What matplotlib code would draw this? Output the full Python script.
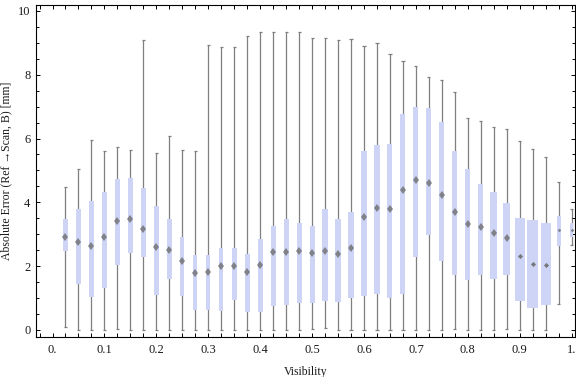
import matplotlib
matplotlib.use("Agg")
import matplotlib.pyplot as plt
from matplotlib.ticker import MultipleLocator, FixedLocator

# box positions (visibility)
VISIBILITY = [0.025, 0.05, 0.075, 0.1, 0.125, 0.15, 0.175, 0.2, 0.225, 0.25,
              0.275, 0.3, 0.325, 0.35, 0.375, 0.4, 0.425, 0.45, 0.475, 0.5,
              0.525, 0.55, 0.575, 0.6, 0.625, 0.65, 0.675, 0.7, 0.725, 0.75,
              0.775, 0.8, 0.825, 0.85, 0.875, 0.9, 0.925, 0.95, 0.975, 1.0]

WHISK_LO = [0.08, 0, 0, 0, 0.03, 0, 0, 0, 0, 0,
            0, 0, 0, 0, 0, 0, 0, 0, 0, 0.03,
            0.06, 0, 0, 0, 0, 0, 0, 0, 0, 0,
            0.04, 0, 0, 0, 0.04, 0, 0, 0, 0.80, 2.65]
Q1 = [2.47, 1.45, 1.04, 1.31, 2.03, 2.42, 2.30, 1.11, 1.61, 1.08,
      0.64, 0.64, 0.61, 0.95, 0.57, 0.57, 0.76, 0.79, 0.84, 0.83,
      0.92, 0.89, 1.01, 1.08, 1.14, 1.01, 1.14, 2.30, 2.97, 2.17,
      1.72, 1.57, 1.72, 1.60, 1.73, 0.92, 0.70, 0.78, 2.64, 2.92]
MEDIAN = [2.92, 2.75, 2.64, 2.92, 3.43, 3.49, 3.16, 2.59, 2.51, 2.17,
          1.80, 1.82, 2.02, 2.02, 1.81, 2.03, 2.43, 2.45, 2.46, 2.42,
          2.49, 2.39, 2.56, 3.53, 3.81, 3.78, 4.39, 4.70, 4.61, 4.23,
          3.69, 3.33, 3.22, 3.05, 2.89, 2.33, 2.07, 2.05, 3.13, 3.13]
Q3 = [3.47, 3.78, 4.03, 4.32, 4.72, 4.75, 4.44, 3.88, 3.48, 2.92,
      2.35, 2.35, 2.56, 2.56, 2.38, 2.84, 3.26, 3.47, 3.35, 3.27,
      3.78, 3.47, 3.70, 5.61, 5.80, 5.83, 6.77, 6.99, 6.96, 6.52,
      5.60, 5.05, 4.58, 4.33, 3.97, 3.51, 3.45, 3.35, 3.57, 3.34]
WHISK_HI = [4.49, 5.06, 5.94, 5.62, 5.73, 5.65, 9.08, 5.56, 6.07, 5.65,
            5.62, 8.93, 8.86, 8.86, 9.22, 9.33, 9.33, 9.33, 9.33, 9.14,
            9.16, 9.08, 9.11, 8.89, 8.99, 8.65, 8.42, 8.27, 7.92, 7.83,
            7.46, 6.64, 6.54, 6.35, 6.29, 5.91, 5.66, 5.41, 4.63, 3.78]
# box widths as drawn, in visibility units
BOX_WIDTH = [0.0096, 0.0096, 0.0096, 0.0102, 0.0096, 0.0096, 0.0083, 0.0090, 0.0090, 0.0077,
             0.0083, 0.0083, 0.0083, 0.0096, 0.0096, 0.0096, 0.0096, 0.0096, 0.0096, 0.0096,
             0.0116, 0.0110, 0.0110, 0.0110, 0.0110, 0.0096, 0.0096, 0.0096, 0.0096, 0.0096,
             0.0096, 0.0096, 0.0102, 0.0135, 0.0135, 0.0193, 0.0206, 0.0193, 0.0083, 0.0050]

X_TICKS = [0, 0.1, 0.2, 0.3, 0.4, 0.5, 0.6, 0.7, 0.8, 0.9, 1.0]
X_LABELS = ["0.", "0.1", "0.2", "0.3", "0.4", "0.5", "0.6", "0.7", "0.8", "0.9", "1."]

SERIF = ["Liberation Serif", "DejaVu Serif"]
BOX_COLOR = "#cdd4f6"
WHISKER_COLOR = "#7f7f7f"
MEDIAN_COLOR = "#6e6e6e"


def main():
    plt.rcParams["font.family"] = SERIF
    fig = plt.figure(figsize=(5.76, 3.77), dpi=100)
    ax = fig.add_axes([36 / 576, 40 / 377, 538.5 / 576, 332.5 / 377])

    # whiskers + caps
    ax.vlines(VISIBILITY, WHISK_LO, WHISK_HI, color=WHISKER_COLOR, linewidth=0.9, zorder=1)
    cap = 0.003
    for x, lo, hi in zip(VISIBILITY, WHISK_LO, WHISK_HI):
        ax.hlines([lo, hi], x - cap, x + cap, color=WHISKER_COLOR, linewidth=0.9, zorder=1)

    heights = [b - a for a, b in zip(Q1, Q3)]
    ax.bar(VISIBILITY, heights, bottom=Q1, width=BOX_WIDTH, color=BOX_COLOR,
           edgecolor="none", zorder=2)

    # median markers: tall diamonds, flatter on wide boxes, tiny on short boxes
    for x, m, w, h in zip(VISIBILITY, MEDIAN, BOX_WIDTH, heights):
        if h < 0.95:
            ax.plot(x, m, marker="D", ms=1.8, color=MEDIAN_COLOR, mew=0, alpha=0.8, zorder=3)
        elif w > 0.015:
            ax.plot(x, m, marker="D", ms=2.6, color=MEDIAN_COLOR, mew=0, alpha=0.9, zorder=3)
        else:
            ax.plot(x, m, marker="d", ms=4.4, color=MEDIAN_COLOR, mew=0, alpha=0.8, zorder=3)

    ax.set_xlim(-0.0318, 1.0054)
    ax.set_ylim(-0.22, 10.2)

    ax.xaxis.set_major_locator(FixedLocator(X_TICKS))
    ax.set_xticklabels(X_LABELS)
    ax.xaxis.set_minor_locator(MultipleLocator(0.025))
    ax.yaxis.set_major_locator(MultipleLocator(2))
    ax.yaxis.set_minor_locator(MultipleLocator(0.5))

    ax.tick_params(which="both", direction="in", top=True, right=True,
                   color="black", width=0.7, labelsize=9, labelcolor="#1a1a1a")
    ax.tick_params(axis="x", which="both", length=2.9, pad=5)
    ax.tick_params(axis="y", which="major", length=2.9, pad=4)
    ax.tick_params(axis="y", which="minor", length=2)
    for s in ax.spines.values():
        s.set_linewidth(0.8)

    ax.set_xlabel("Visibility", fontsize=8.5, color="#1a1a1a", labelpad=7)
    ax.set_ylabel("Absolute Error (Ref \u2192Scan, B) [mm]", fontsize=8.5,
                  color="#1a1a1a", labelpad=4)

    fig.savefig("out.png", dpi=100)


if __name__ == "__main__":
    main()
